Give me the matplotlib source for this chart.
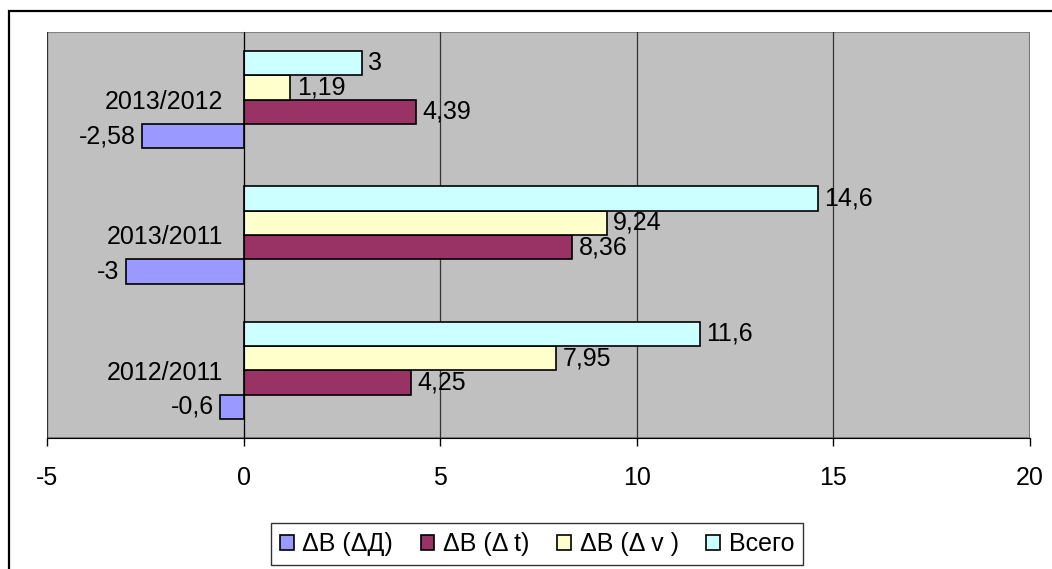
import matplotlib.pyplot as plt
from matplotlib.patches import Rectangle

plt.rcParams['font.family'] = ['Liberation Sans', 'DejaVu Sans']

# categories bottom -> top, as drawn in the chart
periods = ['2012/2011', '2013/2011', '2013/2012']
series_names = ['ΔВ (ΔД)', 'ΔВ (Δ t)', 'ΔВ (Δ v )', 'Всего']
d_delta = [-0.6, -3, -2.58]
t_delta = [4.25, 8.36, 4.39]
v_delta = [7.95, 9.24, 1.19]
total = [11.6, 14.6, 3]
colors = ['#9999FF', '#993366', '#FFFFCC', '#CCFFFF']

W, H = 1052, 569
fig = plt.figure(figsize=(W / 100, H / 100), dpi=100)
ax = fig.add_axes([47 / W, 1 - 438 / H, (1030 - 47) / W, (438 - 32) / H])
ax.set_facecolor('#C0C0C0')

bar_h = 0.18
values = [d_delta, t_delta, v_delta, total]
pos = list(range(len(periods)))
for i, (vals, name, col) in enumerate(zip(values, series_names, colors)):
    offs = [p + (i - 1.5) * bar_h for p in pos]
    bars = ax.barh(offs, vals, height=bar_h, color=col, edgecolor='black',
                   linewidth=1.2, label=name, zorder=3)
    labels = [('%g' % v).replace('.', ',') for v in vals]
    ax.bar_label(bars, labels=labels, padding=4.5, fontsize=18)

ax.set_xlim(-5, 20)
ax.set_ylim(-0.5, 2.5)
ax.set_xticks([-5, 0, 5, 10, 15, 20])
ax.set_xticklabels(['-5', '0', '5', '10', '15', '20'])
ax.tick_params(axis='x', direction='out', length=6, width=1, labelsize=18, pad=14)
ax.grid(axis='x', color='#333333', linewidth=0.9, zorder=1)

# vertical axis crosses at zero, category labels sit next to it
ax.spines['left'].set_position(('data', 0))
ax.spines['left'].set_zorder(4)
ax.set_yticks(pos)
ax.set_yticklabels(periods)
ax.tick_params(axis='y', length=0, labelsize=18, pad=15)
for s in ['top', 'right']:
    ax.spines[s].set_visible(False)
ax.add_patch(Rectangle((0, 0), 1, 1, transform=ax.transAxes, fill=False,
                       edgecolor='#808080', linewidth=1.5, zorder=0.5))

# chart frame, cut at the right and bottom edges
fig.patches.append(Rectangle((9 / W, -0.1), 1.2, 1.1 - 11 / H, transform=fig.transFigure,
                             fill=False, edgecolor='black', linewidth=1.6))

handles, lbls = ax.get_legend_handles_labels()
leg = fig.legend(handles, lbls, loc='center', bbox_to_anchor=(537 / W, 1 - 544 / H),
                 ncol=4, fontsize=18, frameon=True, fancybox=False, edgecolor='black',
                 handlelength=0.55, handleheight=0.55, handletextpad=0.35,
                 columnspacing=1.1, borderpad=0.35, borderaxespad=0)
leg.get_frame().set_linewidth(1.0)

fig.savefig('out.png', dpi=100)
